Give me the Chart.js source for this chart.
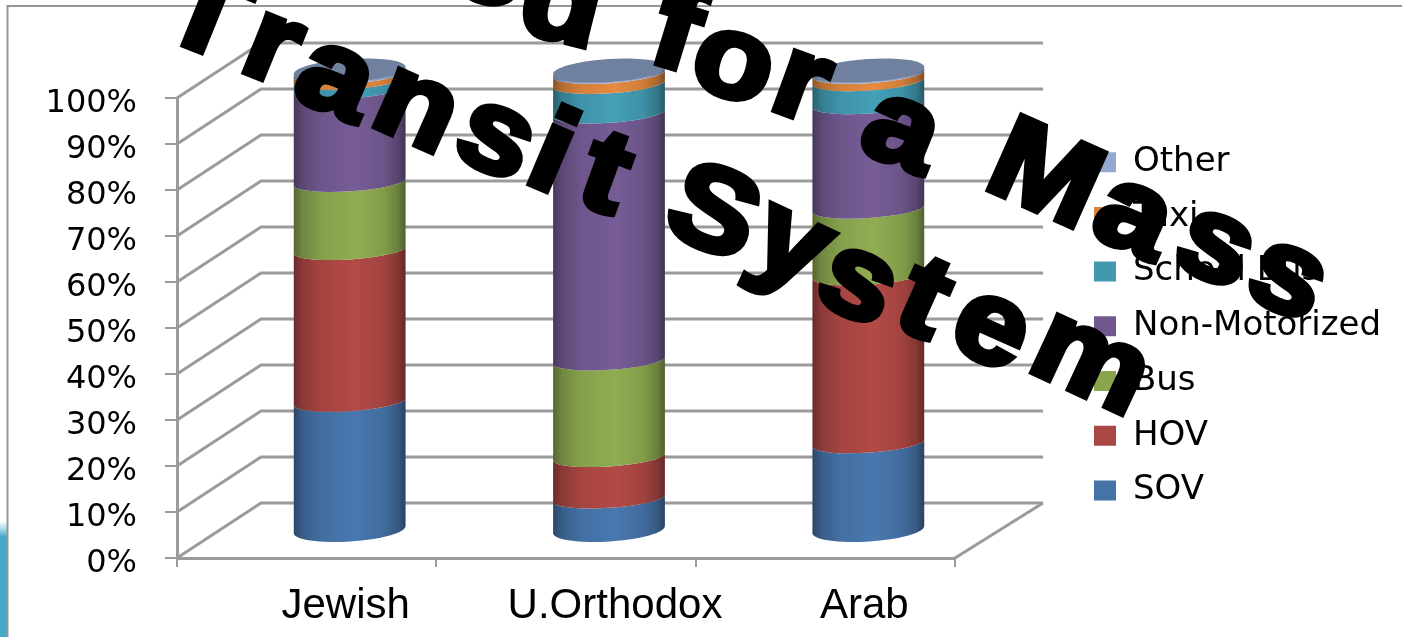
<!DOCTYPE html>
<html>
<head>
<meta charset="utf-8">
<title>Need for a Mass Transit System</title>
<script src="https://cdn.jsdelivr.net/npm/chart.js@4"></script>
<style>
  html, body { margin: 0; padding: 0; background: #fff; overflow: hidden; }
  canvas { display: block; }
</style>
</head>
<body>
<canvas id="modeChart" width="1402" height="637"></canvas>
<script>
const categories = ['Jewish', 'U.Orthodox', 'Arab'];

// mode share per group, percent
const sov = [28, 7, 19];
const hov = [33, 9, 36.5];
const bus = [14.8, 21, 14.5];
const nonMotorized = [20.2, 53.7, 22.7];
const schoolBus = [2, 6.4, 5];
const taxi = [1.2, 2.2, 1.6];
const other = [0.8, 0.7, 0.7];

const yTicks = [0, 10, 20, 30, 40, 50, 60, 70, 80, 90, 100];

// depth of the fake 3D box, in pixels
const depthX = 84;
const depthY = 55;
const lineGrey = '#9b9b9b';

// WordArt title, placed glyph by glyph along its wave: [char, x, y, degrees]
const headline = [
    ['N', 340, -75, 10], ['e', 420, -52, 11], ['e', 490, -30, 12], ['d', 562, -2, 14],
    ['f', 680, 26, 17], ['o', 733, 65, 18], ['r', 804, 87, 20],
    ['a', 903, 134, 22],
    ['M', 1047, 171, 24], ['a', 1135, 220, 24], ['s', 1215, 248, 24], ['s', 1287, 280, 24],
    ['T', 208, 10, 22], ['r', 275, 50, 22], ['a', 337, 82, 23], ['n', 416, 110, 24],
    ['s', 495, 140, 24], ['i', 555, 148, 23], ['t', 606, 172, 20],
    ['S', 715, 208, 22], ['y', 785, 258, 25], ['s', 857, 285, 25], ['t', 925, 297, 24],
    ['e', 991, 330, 24], ['m', 1090, 364, 25]
];

function shade(hex, f){
    const n = parseInt(hex.slice(1), 16);
    const c = [n >> 16, (n >> 8) & 255, n & 255].map(v => Math.min(255, Math.round(v * f)));
    return 'rgb(' + c.join(',') + ')';
}

function cylinderGradient(ctx, left, right, color){
    const g = ctx.createLinearGradient(left, 0, right, 0);
    g.addColorStop(0, shade(color, 0.62));
    g.addColorStop(0.08, shade(color, 0.82));
    g.addColorStop(0.25, shade(color, 0.97));
    g.addColorStop(0.55, shade(color, 1.05));
    g.addColorStop(0.8, shade(color, 0.95));
    g.addColorStop(0.93, shade(color, 0.78));
    g.addColorStop(1, shade(color, 0.58));
    return g;
}

// walls and floor behind the bars, then the stacked cylinders
const cylinders = {
    id: 'cylinders',
    beforeDatasetsDraw(chart){
        const {ctx, scales: {x, y}, chartArea: area} = chart;
        ctx.save();
        ctx.strokeStyle = lineGrey;
        ctx.lineWidth = 3;
        yTicks.forEach(t => {
            const py = y.getPixelForValue(t);
            ctx.beginPath();
            ctx.moveTo(area.left, py);
            ctx.lineTo(area.left + depthX, py - depthY);
            ctx.lineTo(area.right + depthX + 4, py - depthY);
            ctx.stroke();
        });
        ctx.beginPath();
        ctx.moveTo(area.right, area.bottom);
        ctx.lineTo(area.right + depthX + 4, area.bottom - depthY);
        ctx.stroke();

        const tilt = -0.065;
        chart.data.datasets.forEach((ds, di) => {
            const meta = chart.getDatasetMeta(di);
            meta.data.forEach(bar => {
                const cx = bar.x + depthX / 2 + 1;
                const rx = bar.width / 2;
                const top = bar.y - depthY / 2;
                const base = bar.base - depthY / 2;
                const lowR = di === 0 ? 12 : 9.5;
                ctx.beginPath();
                ctx.ellipse(cx, base, rx, lowR, tilt, 0, Math.PI);
                ctx.ellipse(cx, top, rx, 9.5, tilt, Math.PI, 0, true);
                ctx.closePath();
                ctx.fillStyle = cylinderGradient(ctx, cx - rx, cx + rx, ds.backgroundColor);
                ctx.fill();
                if (di === chart.data.datasets.length - 1) {
                    ctx.beginPath();
                    ctx.ellipse(cx, top, rx, 11.5, tilt, 0, Math.PI * 2);
                    ctx.fillStyle = '#70819f';
                    ctx.fill();
                }
            });
        });
        ctx.restore();
        return false;
    }
};

// slide frame and the sliver of slide artwork at the lower left
const slideBackdrop = {
    id: 'slideBackdrop',
    beforeDraw(chart){
        const ctx = chart.ctx;
        ctx.save();
        ctx.fillStyle = '#fff';
        ctx.fillRect(0, 0, chart.width, chart.height);
        const g = ctx.createLinearGradient(0, 522, 0, 537);
        g.addColorStop(0, '#f4fbfd');
        g.addColorStop(0.6, '#8fd0e2');
        g.addColorStop(1, '#45a9c8');
        ctx.fillStyle = g;
        ctx.fillRect(0, 522, 7, 115);
        ctx.strokeStyle = '#969696';
        ctx.lineWidth = 2;
        ctx.beginPath();
        ctx.moveTo(7.5, chart.height);
        ctx.lineTo(7.5, 6);
        ctx.lineTo(chart.width, 6);
        ctx.stroke();
        ctx.restore();

        // middle category label runs a little right of its neighbours
        chart.scales.x.getLabelItems()[1].options.translation[0] += 10;
    },
    afterLayout(chart){
        // the legend sits in the free column right of the plot
        const lg = chart.legend;
        lg.left = 1094 - lg.options.labels.padding;
        lg.right = lg.left + lg.width;
        lg.top = 124.5;
        lg.bottom = lg.top + lg.height;
    }
};

// heavy slanted lettering: widened and stroked so the strokes read as black weight
const headlineText = {
    id: 'headlineText',
    afterDraw(chart){
        const ctx = chart.ctx;
        ctx.save();
        ctx.fillStyle = '#000';
        ctx.strokeStyle = '#000';
        ctx.lineWidth = 6;
        ctx.lineJoin = 'miter';
        ctx.miterLimit = 2;
        ctx.font = 'bold 118px "Liberation Sans", Arial, sans-serif';
        ctx.textAlign = 'left';
        ctx.textBaseline = 'alphabetic';
        headline.forEach(([ch, px, py, deg]) => {
            const m = ctx.measureText(ch);
            const w = m.actualBoundingBoxRight + m.actualBoundingBoxLeft;
            const h = m.actualBoundingBoxAscent + m.actualBoundingBoxDescent;
            const gx = -w / 2 + m.actualBoundingBoxLeft;
            const gy = h / 2 - m.actualBoundingBoxDescent;
            ctx.save();
            ctx.translate(px, py);
            ctx.rotate(deg * Math.PI / 180);
            ctx.scale(1.1, 1);
            ctx.fillText(ch, gx, gy);
            ctx.strokeText(ch, gx, gy);
            ctx.restore();
        });
        ctx.restore();
    }
};

const series = [
    ['SOV', sov, '#4572A7'],
    ['HOV', hov, '#AA4643'],
    ['Bus', bus, '#89A54E'],
    ['Non-Motorized', nonMotorized, '#71588F'],
    ['School Bus', schoolBus, '#4198AF'],
    ['Taxi', taxi, '#DB843D'],
    ['Other', other, '#93A9CF']
];

new Chart(document.getElementById('modeChart'), {
    type: 'bar',
    data: {
        labels: categories,
        datasets: series.map(s => ({ label: s[0], data: s[1], backgroundColor: s[2], borderWidth: 0 }))
    },
    options: {
        responsive: false,
        animation: false,
        layout: { padding: { left: 0, top: 98, right: 447, bottom: 0 } },
        datasets: { bar: { categoryPercentage: 1, barPercentage: 0.432 } },
        scales: {
            x: {
                stacked: true,
                afterFit: s => { s.height = 79; },
                border: { color: lineGrey, width: 3 },
                grid: { drawOnChartArea: false, color: lineGrey, lineWidth: 2, tickLength: 9 },
                ticks: {
                    color: '#000',
                    padding: 14,
                    labelOffset: 39,
                    maxRotation: 0,
                    font: { family: '"Liberation Sans", Arial, sans-serif', size: 42 }
                }
            },
            y: {
                stacked: true,
                min: 0,
                max: 100,
                afterFit: s => { s.width = 177; },
                afterBuildTicks: s => { s.ticks = yTicks.map(v => ({ value: v })); },
                border: { color: lineGrey, width: 3 },
                grid: { drawOnChartArea: false, color: lineGrey, lineWidth: 2, tickLength: 12 },
                ticks: {
                    color: '#000',
                    padding: 28,
                    labelOffset: 6,
                    callback: v => v + '%',
                    font: { family: '"DejaVu Sans", sans-serif', size: 32 }
                }
            }
        },
        plugins: {
            tooltip: { enabled: false },
            legend: {
                position: 'chartArea',
                align: 'start',
                reverse: true,
                labels: {
                    color: '#000',
                    boxWidth: 22,
                    boxHeight: 20,
                    padding: 20.7,
                    font: { family: '"DejaVu Sans", sans-serif', size: 34 }
                }
            }
        }
    },
    plugins: [slideBackdrop, cylinders, headlineText]
});
</script>
</body>
</html>
